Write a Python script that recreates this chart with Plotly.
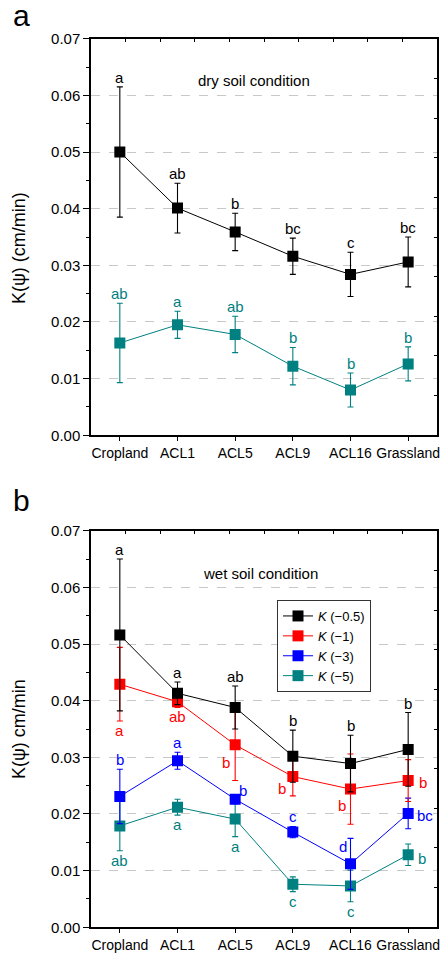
import plotly.graph_objects as go

# ---------------- data ----------------
categories = ["Cropland", "ACL1", "ACL5", "ACL9", "ACL16", "Grassland"]

dry_k05 = [0.0500, 0.0401, 0.0359, 0.0316, 0.0284, 0.0306]
dry_k05_err = [0.0115, 0.0044, 0.0033, 0.0032, 0.0039, 0.0044]
dry_k05_letters = ["a", "ab", "b", "bc", "c", "bc"]

dry_k5 = [0.0163, 0.0195, 0.0178, 0.0122, 0.0080, 0.0126]
dry_k5_err = [0.0070, 0.0024, 0.0032, 0.0033, 0.0030, 0.0030]
dry_k5_letters = ["ab", "a", "ab", "b", "b", "b"]

wet_k05 = [0.0516, 0.0413, 0.0388, 0.0302, 0.0289, 0.0314]
wet_k05_err = [0.0134, 0.0020, 0.0038, 0.0046, 0.0050, 0.0065]
wet_k05_letters = ["a", "a", "ab", "b", "b", "b"]

wet_k1 = [0.0429, 0.0398, 0.0322, 0.0266, 0.0244, 0.0259]
wet_k1_err = [0.0065, 0.0010, 0.0063, 0.0034, 0.0062, 0.0037]
wet_k1_letters = ["a", "ab", "b", "b", "b", "b"]

wet_k3 = [0.0231, 0.0294, 0.0226, 0.0168, 0.0112, 0.0201]
wet_k3_err = [0.0048, 0.0015, 0.0008, 0.0010, 0.0045, 0.0027]
wet_k3_letters = ["b", "a", "b", "c", "d", "bc"]

wet_k5 = [0.0179, 0.0212, 0.0191, 0.0076, 0.0073, 0.0128]
wet_k5_err = [0.0044, 0.0014, 0.0031, 0.0013, 0.0028, 0.0019]
wet_k5_letters = ["ab", "a", "a", "c", "c", "b"]

y_ticks = [0.00, 0.01, 0.02, 0.03, 0.04, 0.05, 0.06, 0.07]

# ---------------- styles / placement ----------------
BLACK = "#000000"
RED = "#ff0000"
BLUE = "#0000ff"
TEAL = "#008080"
FONT = "Liberation Sans, Arial, sans-serif"

# letter placement: "up" above error bar, "down" below error bar,
# or (dx, dy) pixel offset from marker centre
place_dry_k05 = ["up"] * 6
place_dry_k5 = ["up"] * 6
place_wet_k05 = ["up"] * 6
place_wet_k1 = ["down", "down", (-9, -16), (-11, -10), (-9, -14), (15, 0)]
place_wet_k3 = ["up", "up", (8, 11), "up", (-8, 19), (17, 0)]
place_wet_k5 = ["down", "down", "down", "down", "down", (14, -2)]

W, H = 442, 956
x_dom = [91 / W, 437 / W]
ya_dom = [1 - 435.3 / H, 1 - 38.7 / H]
yb_dom = [1 - 927.3 / H, 1 - 530.7 / H]

fig = go.Figure()
annotations = []


def add_series(vals, errs, letters, places, color, name, xa, ya, showlegend):
    xs = list(range(len(categories)))
    fig.add_trace(go.Scatter(
        x=xs, y=vals, mode="lines+markers", name=name,
        xaxis=xa, yaxis=ya, showlegend=showlegend,
        line=dict(color=color, width=1),
        marker=dict(symbol="square", size=11, color=color),
        error_y=dict(type="data", array=errs, visible=True,
                     color=color, thickness=1.1, width=3),
    ))
    for i, (v, e, t, p) in enumerate(zip(vals, errs, letters, places)):
        ann = dict(x=i, text=t, showarrow=False, xref=xa, yref=ya,
                   font=dict(family=FONT, size=15, color=color))
        if p == "up":
            ann.update(y=v + e, yanchor="bottom", yshift=-1)
        elif p == "down":
            ann.update(y=v - e, yanchor="top", yshift=1)
        else:
            ann.update(y=v, yanchor="middle", xshift=p[0], yshift=p[1] - 2)
        annotations.append(ann)


add_series(dry_k05, dry_k05_err, dry_k05_letters, place_dry_k05, BLACK, "K(-0.5) dry", "x", "y", False)
add_series(dry_k5, dry_k5_err, dry_k5_letters, place_dry_k5, TEAL, "K(-5) dry", "x", "y", False)

add_series(wet_k5, wet_k5_err, wet_k5_letters, place_wet_k5, TEAL, "<i>K</i> (\u22125)", "x2", "y2", True)
add_series(wet_k3, wet_k3_err, wet_k3_letters, place_wet_k3, BLUE, "<i>K</i> (\u22123)", "x2", "y2", True)
add_series(wet_k1, wet_k1_err, wet_k1_letters, place_wet_k1, RED, "<i>K</i> (\u22121)", "x2", "y2", True)
add_series(wet_k05, wet_k05_err, wet_k05_letters, place_wet_k05, BLACK, "<i>K</i> (\u22120.5)", "x2", "y2", True)

xax = dict(range=[-0.5, 5.5], tickmode="array", tickvals=list(range(len(categories))),
           ticktext=categories, ticks="outside", ticklen=4, tickwidth=1.2, tickcolor="black",
           showline=True, linecolor="black", linewidth=1.5, mirror=True,
           showgrid=False, zeroline=False, automargin=False,
           tickfont=dict(family=FONT, size=14, color="black"), domain=x_dom)
yax = dict(range=[0, 0.07], tickmode="array", tickvals=y_ticks, tickformat=".2f",
           ticks="outside", ticklen=6, tickwidth=1.2, tickcolor="black",
           minor=dict(ticks="outside", dtick=0.005, ticklen=3, tickwidth=1, tickcolor="black", showgrid=False),
           showline=True, linecolor="black", linewidth=1.5, mirror=True,
           showgrid=True, gridcolor="#c8c8c8", griddash="dash", gridwidth=1,
           zeroline=False, automargin=False, tickfont=dict(family=FONT, size=15, color="black"))

top_ax = dict(range=[0, 10], tickmode="linear", tick0=0, dtick=1, ticks="inside", ticklen=3,
              tickwidth=1, tickcolor="black", showticklabels=False, showgrid=False,
              zeroline=False, side="top", showline=False, automargin=False)
right_ax = dict(range=[0, 10], tickmode="linear", tick0=0, dtick=1, ticks="inside", ticklen=3,
                tickwidth=1, tickcolor="black", showticklabels=False, showgrid=False,
                zeroline=False, side="right", showline=False, automargin=False)

# dummy invisible traces so overlay axes get drawn
for xa, ya in [("x3", "y"), ("x", "y3"), ("x4", "y2"), ("x2", "y4")]:
    fig.add_trace(go.Scatter(x=[None], y=[None], xaxis=xa, yaxis=ya, showlegend=False,
                             hoverinfo="skip", mode="markers"))

# text annotations (paper)
def ptxt(x, y, text, size, **kw):
    annotations.append(dict(x=x / W, y=1 - y / H, xref="paper", yref="paper", text=text,
                            showarrow=False, font=dict(family=FONT, size=size, color="black"),
                            xanchor="center", yanchor="middle", **kw))

ptxt(21, 15, "a", 30)
ptxt(21, 500, "b", 30)
ptxt(254, 80, "dry soil condition", 15)
ptxt(260, 573, "wet soil condition", 15)
ptxt(19, 248, "K(\u03c8) (cm/min)", 18, textangle=-90)
ptxt(19, 729, "K(\u03c8) cm/min", 18, textangle=-90)

fig.update_layout(
    width=W, height=H, margin=dict(l=0, r=0, t=0, b=0, autoexpand=False),
    paper_bgcolor="white", plot_bgcolor="white",
    font=dict(family=FONT, color="black"),
    xaxis=dict(xax, anchor="y"),
    yaxis=dict(yax, anchor="x", domain=ya_dom),
    xaxis2=dict(xax, anchor="y2"),
    yaxis2=dict(yax, anchor="x2", domain=yb_dom),
    xaxis3=dict(top_ax, overlaying="x", anchor="y"),
    yaxis3=dict(right_ax, overlaying="y", anchor="x"),
    xaxis4=dict(top_ax, overlaying="x2", anchor="y2"),
    yaxis4=dict(right_ax, overlaying="y2", anchor="x2"),
    legend=dict(x=277 / W, y=1 - 600 / H, xanchor="left", yanchor="top",
                bgcolor="white", bordercolor="#333333", borderwidth=1,
                font=dict(family=FONT, size=13, color="black"),
                traceorder="reversed", itemwidth=30, tracegroupgap=0),
    annotations=annotations,
    showlegend=True,
)

fig.write_html(
    "out.html",
    config={"displayModeBar": False},
    post_script="document.body.style.margin='0';document.body.style.overflow='hidden';",
)
